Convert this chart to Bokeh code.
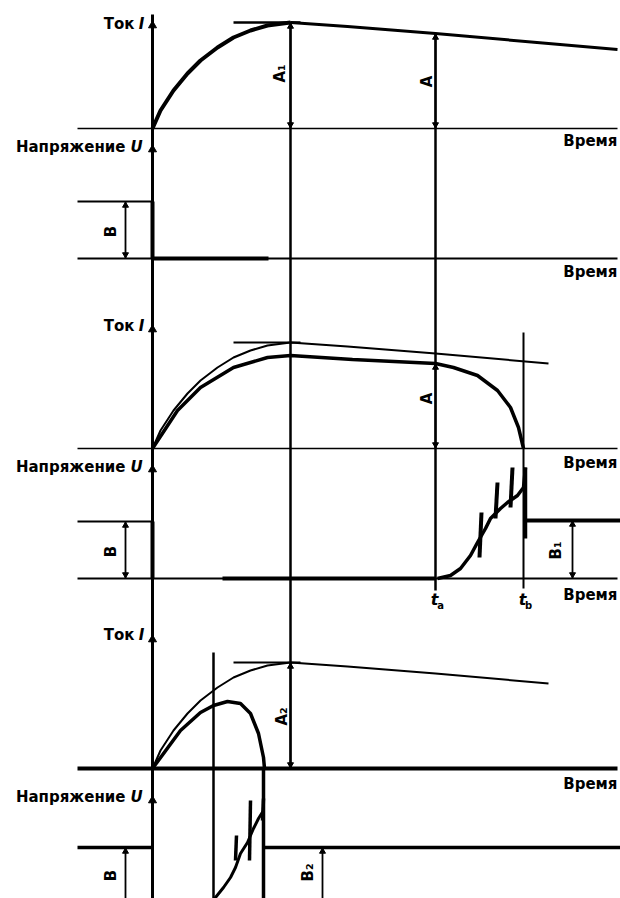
import math
from bokeh.plotting import figure
from bokeh.models import Range1d
from bokeh.core.properties import value
from bokeh.embed import file_html
from bokeh.resources import INLINE

# ---------------- data (time from switching instant, current / voltage magnitudes) -------------
prosp_t = [0, 8, 21, 35, 48, 65, 81, 98, 115, 138, 195, 283, 396, 465]
prosp_i = [0, 18, 38, 55, 68, 81, 91, 98, 103, 106, 102, 95, 85, 79]

act2_t = [0, 25, 48, 81, 115, 138, 200, 283, 301, 325, 345, 358, 366, 371]
act2_i = [0, 38, 61, 81, 91, 93, 89, 85, 81, 73, 58, 41, 21, 0]

act3_t = [0, 28, 48, 61, 75, 88, 98, 106, 111, 112]
act3_i = [0, 38, 56, 63, 67, 65, 55, 35, 11, 0]

B_level = 57
B1_level = 58
B2_level = 57

arc2_t = [285, 298, 308, 318, 325, 333, 338, 348, 355, 365, 371, 373]
arc2_v = [0, 3, 10, 23, 36, 50, 60, 70, 76, 83, 91, 111]
spike2_t = [327, 343, 358]
spike2_lo = [21, 60, 71]
spike2_hi = [66, 96, 111]

arc3_t = [61, 63, 71, 78, 83, 88, 95, 101, 106, 111]
arc3_v = [0, 7, 17, 27, 37, 51, 62, 76, 86, 94]
spike3_t = [83, 97, 110]
spike3_lo = [44, 44, 84]
spike3_hi = [69, 104, 106]

t_peak = 138
t_a = 283
t_b = 371
t_arc3_start = 61
t_arc3_end = 111

# ---------------- layout -------------------------------------------------------------------
X0 = 152                   # x of time origin
YI = [128, 448, 768]       # current zero lines
YU = [258, 578, 904]       # voltage zero lines
XL, XR = 77, 617

def X(ts):
    return [X0 + t for t in ts]

def Y(base, vs):
    return [base - v for v in vs]

p = figure(width=620, height=898, x_range=Range1d(0, 620), y_range=Range1d(898, 0),
           output_backend="svg", toolbar_location=None, min_border=0,
           x_axis_location=None, y_axis_location=None)
p.grid.visible = False
p.outline_line_color = None
p.background_fill_color = "white"
p.border_fill_color = "white"

K = "black"

def seg(x0, y0, x1, y1, w):
    p.line([x0, x1], [y0, y1], line_color=K, line_width=w, line_cap="butt")

def dim(x, y_top, y_bot):
    seg(x, y_top, x, y_bot, 1.8)
    p.scatter([x, x], [y_top + 4, y_bot - 4], marker="triangle", size=6,
              angle=[0, math.pi], fill_color=K, line_color=K)

FONT = value("DejaVu Sans")

def label(x, y, txt, size="15px", style="bold", align="right", angle=0.0):
    p.text([x], [y], text=[txt], text_font=FONT, text_font_size=size,
           text_font_style=style, text_align=align, text_baseline="middle",
           text_color=K, angle=angle)

# main vertical axis
seg(X0, 14, X0, 898, 3)
# axis arrowheads
arrow_y = [YI[0] - 106, YU[0] - 112, YI[1] - 122, YU[1] - 112, YI[2] - 132, YU[2] - 107]
p.scatter([X0] * 6, [a + 3 for a in arrow_y], marker="triangle", size=8,
          fill_color=K, line_color=K)

# long reference verticals
seg(X0 + t_peak, YI[0] - prosp_i[9], X0 + t_peak, YI[2], 2.5)
seg(X0 + t_a, YI[0] - prosp_i[11], X0 + t_a, YU[1] + 12, 2.5)
seg(X0 + t_b, YI[1] - 116, X0 + t_b, YU[1] + 10, 2)
seg(X0 + t_arc3_start, YI[2] - 116, X0 + t_arc3_start, 898, 2.5)

# ---------------- panel 1 ----------------
b = YI[0]
seg(XL, b, XR, b, 1.5)
p.line(X(prosp_t[:10]), Y(b, prosp_i[:10]), line_color=K, line_width=4)
p.line(X(prosp_t[9:]), Y(b, prosp_i[9:]), line_color=K, line_width=3)
seg(233, b - prosp_i[9], 300, b - prosp_i[9], 2.5)
dim(X0 + t_peak, b - prosp_i[9], b)
dim(X0 + t_a, b - prosp_i[11], b)

u = YU[0]
seg(XL, u, XR, u, 2)
seg(XL, u - B_level, X0, u - B_level, 2)
seg(X0, u - B_level, X0, u, 4)
seg(X0, u, X0 + 116, u, 4)
dim(125, u - B_level, u)

# ---------------- panel 2 ----------------
b = YI[1]
seg(XL, b, XR, b, 1.5)
p.line(X(prosp_t[:13]), Y(b, prosp_i[:13]), line_color=K, line_width=2)
seg(233, b - prosp_i[9], 300, b - prosp_i[9], 2)
p.line(X(act2_t), Y(b, act2_i), line_color=K, line_width=3.5)
dim(X0 + t_a, b - act2_i[7], b)

u = YU[1]
seg(XL, u, XR, u, 2)
seg(222, u, X0 + t_a, u, 4)
seg(XL, u - B_level, X0, u - B_level, 2)
seg(X0, u - B_level, X0, u, 4)
dim(125, u - B_level, u)
p.line(X(arc2_t), Y(u, arc2_v), line_color=K, line_width=3.5)
p.multi_line([[X0 + t, X0 + t + 2] for t in spike2_t],
             [[u - lo, u - hi] for lo, hi in zip(spike2_lo, spike2_hi)],
             line_color=K, line_width=4)
seg(X0 + arc2_t[-1], u - arc2_v[-1], X0 + arc2_t[-1], u - B1_level + 18, 3.5)
seg(X0 + arc2_t[-1], u - B1_level, XR + 3, u - B1_level, 4)
dim(572, u - B1_level, u)

# ---------------- panel 3 ----------------
b = YI[2]
seg(XL, b, XR, b, 4)
p.line(X(prosp_t[:13]), Y(b, prosp_i[:13]), line_color=K, line_width=2)
seg(233, b - prosp_i[9], 300, b - prosp_i[9], 2)
p.line(X(act3_t), Y(b, act3_i), line_color=K, line_width=3.5)
dim(X0 + t_peak, b - prosp_i[9], b)

u = YU[2]
seg(XL, u - B_level, X0, u - B_level, 3.5)
seg(X0 + t_arc3_end, u - B2_level, XR + 3, u - B2_level, 3.5)
seg(X0 + t_arc3_end, b, X0 + t_arc3_end, 898, 3.5)
p.line(X(arc3_t), Y(u, arc3_v), line_color=K, line_width=3)
p.multi_line([[X0 + t, X0 + t + 1] for t in spike3_t],
             [[u - lo, u - hi] for lo, hi in zip(spike3_lo, spike3_hi)],
             line_color=K, line_width=3.5)
dim(125, u - B_level, u)
dim(322, u - B2_level, u)

# ---------------- texts ----------------
for yi, yu in [(23, 146), (325, 466), (634, 796)]:
    label(134, yi, "Ток")
    label(141, yi, "I", style="bold italic", align="center")
    label(125, yu, "Напряжение")
    label(136, yu, "U", style="bold italic", align="center")

for yt in [140, 271, 462, 594, 783]:
    label(617, yt, "Время", size="15px")

R = math.pi / 2
label(279, 73, "A₁", size="15px", align="center", angle=R)
label(426, 81, "A", size="15px", align="center", angle=R)
label(426, 398, "A", size="15px", align="center", angle=R)
label(281, 716, "A₂", size="15px", align="center", angle=R)
label(110, 231, "B", size="15px", align="center", angle=R)
label(110, 551, "B", size="15px", align="center", angle=R)
label(110, 875, "B", size="15px", align="center", angle=R)
label(555, 550, "B₁", size="15px", align="center", angle=R)
label(307, 872, "B₂", size="15px", align="center", angle=R)

label(434, 599, "t", size="16px", style="bold italic", align="center")
label(440, 605, "a", size="10px", style="bold", align="center")
label(522, 599, "t", size="16px", style="bold italic", align="center")
label(528, 605, "b", size="10px", style="bold", align="center")

open("out.html", "w").write(file_html(p, INLINE))
